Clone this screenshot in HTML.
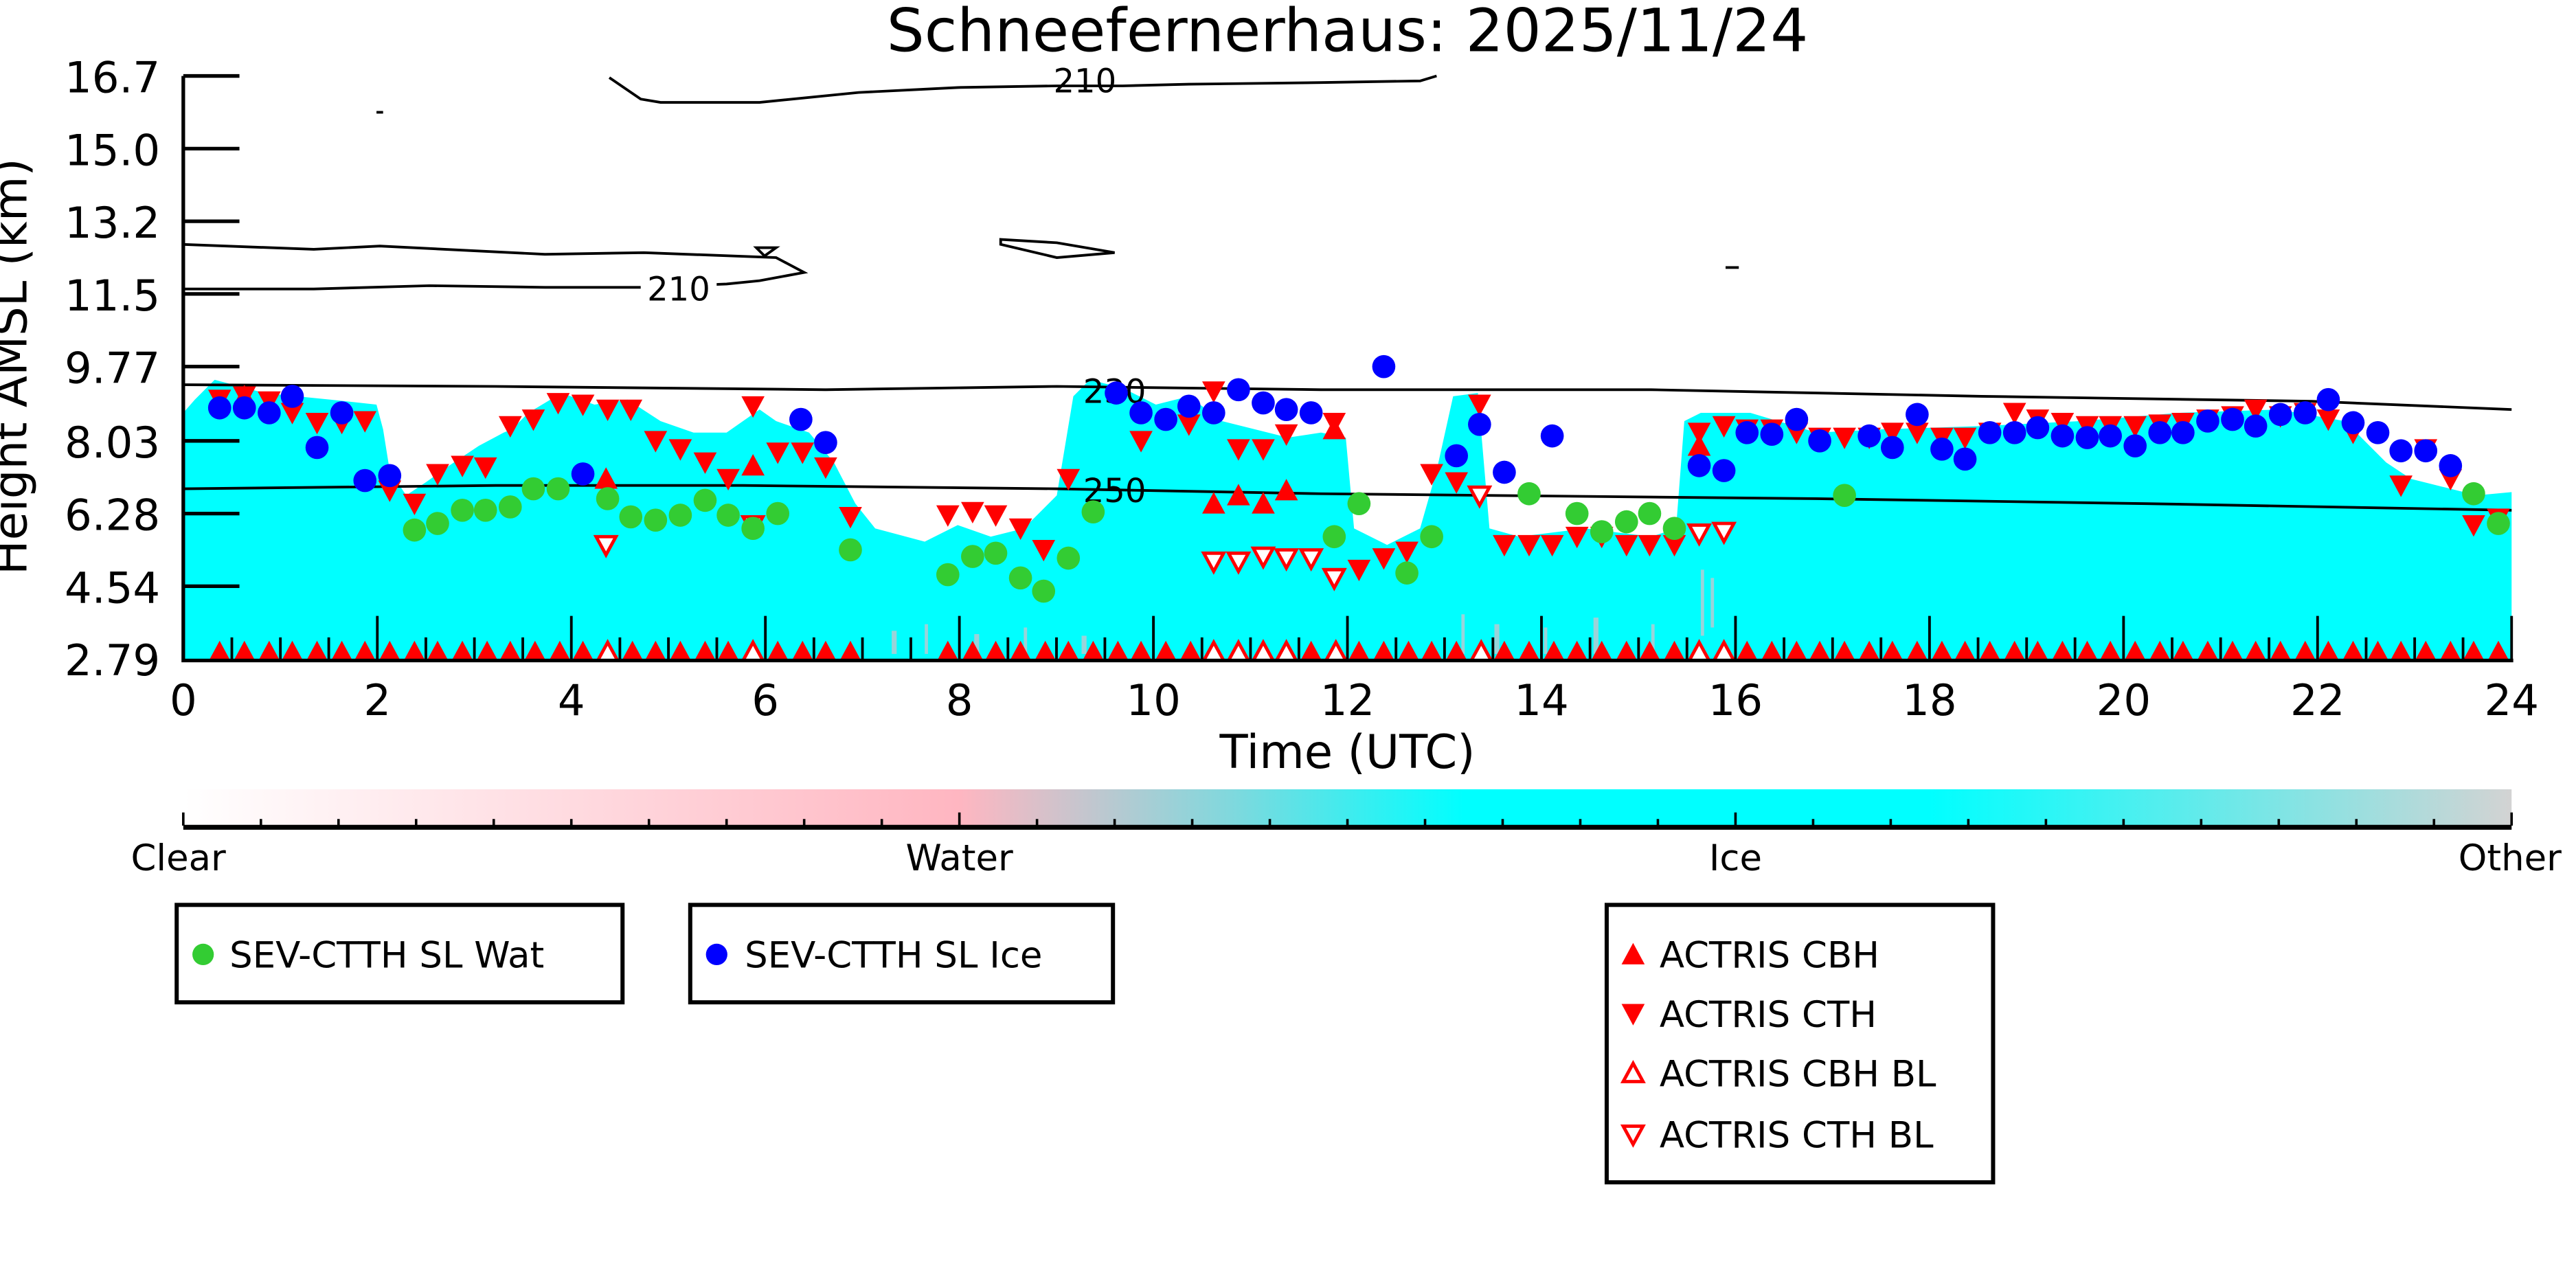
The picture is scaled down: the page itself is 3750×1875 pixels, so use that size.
<!DOCTYPE html>
<html><head><meta charset="utf-8"><style>
html,body{margin:0;padding:0;background:#fff;}
svg{display:block;}
text{font-family:"DejaVu Sans","Liberation Sans",sans-serif;fill:#000;}
</style></head><body>
<svg width="3750" height="1875" viewBox="0 0 1560 780" xmlns="http://www.w3.org/2000/svg">
<defs>
<path id="dn" d="M-7,-6 L7,-6 L0,7 Z" fill="#f00"/>
<path id="up" d="M-7,6 L7,6 L0,-7 Z" fill="#f00"/>
<path id="dnh" d="M-6,-5 L6,-5 L0,6 Z" fill="#fff" stroke="#f00" stroke-width="2"/>
<path id="uph" d="M-6,5 L6,5 L0,-6 Z" fill="#fff" stroke="#f00" stroke-width="2"/>
<circle id="g" r="7" fill="#33cc33"/>
<circle id="b" r="7" fill="#0000ff"/>
<linearGradient id="cb" x1="0" x2="1" y1="0" y2="0">
<stop offset="0" stop-color="#ffffff"/>
<stop offset="0.333" stop-color="#ffb6c1"/>
<stop offset="0.45" stop-color="#80d8dd"/>
<stop offset="0.55" stop-color="#00ffff"/>
<stop offset="0.75" stop-color="#00ffff"/>
<stop offset="1" stop-color="#d3d3d3"/>
</linearGradient>
</defs>
<text x="816" y="31" font-size="36" text-anchor="middle">Schneefernerhaus: 2025/11/24</text>

<!-- cyan cloud mask -->
<polygon fill="#00ffff" points="111,399 111,250 118,242 130,230 160,238 200,242 228,245 232,260 236,285 246,300 258,292 272,282 290,270 305,262 310,260 320,250 340,238 360,245 380,242 400,255 420,262 440,262 460,248 470,255 490,262 505,280 518,305 530,320 560,328 580,318 600,325 620,320 640,300 650,240 660,230 680,235 700,245 720,240 740,255 760,260 780,265 800,262 815,265 820,320 840,330 860,320 870,285 880,240 895,238 902,320 920,325 960,320 1000,325 1015,320 1020,255 1030,250 1060,250 1100,262 1140,260 1200,258 1260,255 1320,250 1380,248 1420,255 1445,280 1460,290 1480,295 1500,300 1521,298 1521,399"/>
<rect x="111" y="375" width="1410" height="24" fill="#00ffff"/>
<g fill="#ffb6c1" opacity="0.6">
<rect x="540" y="382" width="3" height="14"/><rect x="560" y="378" width="2" height="18"/><rect x="590" y="384" width="3" height="12"/><rect x="620" y="380" width="2" height="16"/><rect x="655" y="385" width="3" height="11"/>
<rect x="885" y="372" width="2" height="24"/><rect x="905" y="378" width="3" height="18"/><rect x="935" y="380" width="2" height="16"/><rect x="965" y="374" width="3" height="22"/><rect x="1000" y="378" width="2" height="18"/><rect x="1030" y="345" width="2" height="40"/><rect x="1036" y="350" width="2" height="30"/>
</g>

<!-- contours -->
<g fill="none" stroke="#000" stroke-width="1.6">
<path d="M369,47 L388,60 L400,62 L460,62 L520,56 L580,53 L640,52 L680,52 L720,51 L800,50 L860,49 L870,46"/>
<path d="M111,148 L190,151 L230,149 L330,154 L390,153 L470,156 L487,165 L460,170 L440,172 L390,174 L330,174 L260,173 L190,175 L111,175"/>
<path d="M458,150 L470,150 L463,155 Z"/>
<path d="M606,145 L640,147 L675,153 L640,156 L606,148 Z"/>
<path d="M1045,162 L1053,162"/>
<path d="M228,68 L232,68"/>
<path d="M111,233 L300,234 L500,236 L640,234 L800,236 L1000,236 L1200,240 L1400,243 L1521,248"/>
<path d="M111,296 L300,294 L450,294 L640,296 L800,299 L900,300 L1100,302 L1300,305 L1521,309"/>
</g>
<rect x="388" y="164" width="46" height="20" fill="#fff"/>
<text x="411" y="182" font-size="20" text-anchor="middle">210</text>
<text x="675" y="244" font-size="20" text-anchor="middle">230</text>
<text x="675" y="304" font-size="20" text-anchor="middle">250</text>
<text x="657" y="56" font-size="20" text-anchor="middle">210</text>

<!-- baseline triangles -->
<g>
<use href="#up" x="133" y="395"/><use href="#up" x="148" y="395"/><use href="#up" x="163" y="395"/><use href="#up" x="177" y="395"/><use href="#up" x="192" y="395"/><use href="#up" x="207" y="395"/><use href="#up" x="221" y="395"/><use href="#up" x="236" y="395"/><use href="#up" x="251" y="395"/><use href="#up" x="265" y="395"/><use href="#up" x="280" y="395"/><use href="#up" x="295" y="395"/><use href="#up" x="309" y="395"/><use href="#up" x="324" y="395"/><use href="#up" x="339" y="395"/><use href="#up" x="353" y="395"/><use href="#uph" x="368" y="395"/><use href="#up" x="383" y="395"/><use href="#up" x="397" y="395"/><use href="#up" x="412" y="395"/><use href="#up" x="427" y="395"/><use href="#up" x="441" y="395"/><use href="#uph" x="456" y="395"/><use href="#up" x="471" y="395"/><use href="#up" x="486" y="395"/><use href="#up" x="500" y="395"/><use href="#up" x="515" y="395"/><use href="#up" x="574" y="395"/><use href="#up" x="589" y="395"/><use href="#up" x="603" y="395"/><use href="#up" x="618" y="395"/><use href="#up" x="633" y="395"/><use href="#up" x="647" y="395"/><use href="#up" x="662" y="395"/><use href="#up" x="677" y="395"/><use href="#up" x="691" y="395"/><use href="#up" x="706" y="395"/><use href="#up" x="721" y="395"/><use href="#uph" x="735" y="395"/><use href="#uph" x="750" y="395"/><use href="#uph" x="765" y="395"/><use href="#uph" x="779" y="395"/><use href="#up" x="794" y="395"/><use href="#uph" x="809" y="395"/><use href="#up" x="823" y="395"/><use href="#up" x="838" y="395"/><use href="#up" x="853" y="395"/><use href="#up" x="867" y="395"/><use href="#up" x="882" y="395"/><use href="#uph" x="897" y="395"/><use href="#up" x="911" y="395"/><use href="#up" x="926" y="395"/><use href="#up" x="941" y="395"/><use href="#up" x="955" y="395"/><use href="#up" x="970" y="395"/><use href="#up" x="985" y="395"/><use href="#up" x="999" y="395"/><use href="#up" x="1014" y="395"/><use href="#uph" x="1029" y="395"/><use href="#uph" x="1044" y="395"/><use href="#up" x="1058" y="395"/><use href="#up" x="1073" y="395"/><use href="#up" x="1088" y="395"/><use href="#up" x="1102" y="395"/><use href="#up" x="1117" y="395"/><use href="#up" x="1132" y="395"/><use href="#up" x="1146" y="395"/><use href="#up" x="1161" y="395"/><use href="#up" x="1176" y="395"/><use href="#up" x="1190" y="395"/><use href="#up" x="1205" y="395"/><use href="#up" x="1220" y="395"/><use href="#up" x="1234" y="395"/><use href="#up" x="1249" y="395"/><use href="#up" x="1264" y="395"/><use href="#up" x="1278" y="395"/><use href="#up" x="1293" y="395"/><use href="#up" x="1308" y="395"/><use href="#up" x="1322" y="395"/><use href="#up" x="1337" y="395"/><use href="#up" x="1352" y="395"/><use href="#up" x="1366" y="395"/><use href="#up" x="1381" y="395"/><use href="#up" x="1396" y="395"/><use href="#up" x="1410" y="395"/><use href="#up" x="1425" y="395"/><use href="#up" x="1440" y="395"/><use href="#up" x="1454" y="395"/><use href="#up" x="1469" y="395"/><use href="#up" x="1484" y="395"/><use href="#up" x="1498" y="395"/><use href="#up" x="1513" y="395"/>
</g>

<!-- CTH down triangles -->
<g>
<use href="#dn" x="133" y="242"/><use href="#dn" x="148" y="240"/><use href="#dn" x="163" y="243"/><use href="#dn" x="177" y="250"/><use href="#dn" x="192" y="256"/><use href="#dn" x="207" y="256"/><use href="#dn" x="221" y="255"/><use href="#dn" x="236" y="297"/><use href="#dn" x="251" y="305"/><use href="#dn" x="265" y="287"/><use href="#dn" x="280" y="282"/><use href="#dn" x="294" y="283"/><use href="#dn" x="309" y="258"/><use href="#dn" x="323" y="254"/><use href="#dn" x="338" y="244"/><use href="#dn" x="353" y="245"/><use href="#dn" x="368" y="248"/><use href="#dn" x="382" y="248"/><use href="#dn" x="397" y="267"/><use href="#dn" x="412" y="272"/><use href="#dn" x="427" y="280"/><use href="#dn" x="441" y="290"/><use href="#dn" x="456" y="246"/><use href="#dn" x="471" y="274"/><use href="#dn" x="486" y="274"/><use href="#dn" x="500" y="283"/><use href="#dn" x="515" y="313"/><use href="#dn" x="574" y="312"/><use href="#dn" x="589" y="310"/><use href="#dn" x="603" y="312"/><use href="#dn" x="618" y="320"/><use href="#dn" x="632" y="333"/><use href="#dn" x="647" y="290"/><use href="#dn" x="691" y="267"/><use href="#dn" x="720" y="257"/><use href="#dn" x="735" y="237"/><use href="#dn" x="750" y="272"/><use href="#dn" x="765" y="272"/><use href="#dn" x="779" y="263"/><use href="#dn" x="808" y="256"/><use href="#dn" x="867" y="287"/><use href="#dn" x="882" y="292"/><use href="#dn" x="896" y="245"/><use href="#dn" x="911" y="330"/><use href="#dn" x="926" y="330"/><use href="#dn" x="940" y="330"/><use href="#dn" x="955" y="325"/><use href="#dn" x="970" y="325"/><use href="#dn" x="985" y="330"/><use href="#dn" x="999" y="330"/><use href="#dn" x="1014" y="330"/><use href="#dn" x="1029" y="262"/><use href="#dn" x="1044" y="258"/><use href="#dn" x="1058" y="260"/><use href="#dn" x="1073" y="260"/><use href="#dn" x="1088" y="262"/><use href="#dn" x="1102" y="265"/><use href="#dn" x="1117" y="265"/><use href="#dn" x="1132" y="265"/><use href="#dn" x="1146" y="262"/><use href="#dn" x="1161" y="262"/><use href="#dn" x="1176" y="265"/><use href="#dn" x="1190" y="265"/><use href="#dn" x="1205" y="262"/><use href="#dn" x="1220" y="250"/><use href="#dn" x="1234" y="254"/><use href="#dn" x="1249" y="256"/><use href="#dn" x="1264" y="258"/><use href="#dn" x="1278" y="258"/><use href="#dn" x="1293" y="258"/><use href="#dn" x="1308" y="257"/><use href="#dn" x="1322" y="256"/><use href="#dn" x="1337" y="254"/><use href="#dn" x="1352" y="252"/><use href="#dn" x="1366" y="248"/><use href="#dn" x="1381" y="252"/><use href="#dn" x="1396" y="250"/><use href="#dn" x="1410" y="254"/><use href="#dn" x="1425" y="262"/><use href="#dn" x="1454" y="294"/><use href="#dn" x="1469" y="272"/><use href="#dn" x="1484" y="290"/><use href="#dn" x="1498" y="318"/><use href="#dn" x="1513" y="314"/>
<use href="#dn" x="808" y="350"/><use href="#dn" x="823" y="345"/><use href="#dn" x="838" y="338"/><use href="#dn" x="852" y="334"/>
<use href="#up" x="735" y="305"/><use href="#up" x="750" y="300"/><use href="#up" x="765" y="305"/><use href="#up" x="779" y="297"/><use href="#up" x="808" y="260"/><use href="#up" x="367" y="290"/><use href="#up" x="456" y="282"/><use href="#up" x="1029" y="270"/><use href="#up" x="148" y="240"/>
<use href="#dnh" x="735" y="340"/><use href="#dnh" x="750" y="340"/><use href="#dnh" x="765" y="337"/><use href="#dnh" x="779" y="338"/><use href="#dnh" x="794" y="338"/><use href="#dnh" x="808" y="350"/><use href="#dnh" x="367" y="330"/><use href="#dnh" x="896" y="300"/><use href="#dnh" x="1029" y="323"/><use href="#dnh" x="1044" y="322"/><use href="#dnh" x="456" y="318"/>
</g>

<!-- green -->
<g>
<use href="#g" x="251" y="321"/><use href="#g" x="265" y="317"/><use href="#g" x="280" y="309"/><use href="#g" x="294" y="309"/><use href="#g" x="309" y="307"/><use href="#g" x="323" y="296"/><use href="#g" x="338" y="296"/><use href="#g" x="368" y="302"/><use href="#g" x="382" y="313"/><use href="#g" x="397" y="315"/><use href="#g" x="412" y="312"/><use href="#g" x="427" y="303"/><use href="#g" x="441" y="312"/><use href="#g" x="456" y="320"/><use href="#g" x="471" y="311"/><use href="#g" x="515" y="333"/><use href="#g" x="574" y="348"/><use href="#g" x="589" y="337"/><use href="#g" x="603" y="335"/><use href="#g" x="618" y="350"/><use href="#g" x="632" y="358"/><use href="#g" x="647" y="338"/><use href="#g" x="662" y="310"/><use href="#g" x="808" y="325"/><use href="#g" x="823" y="305"/><use href="#g" x="852" y="347"/><use href="#g" x="867" y="325"/><use href="#g" x="926" y="299"/><use href="#g" x="955" y="311"/><use href="#g" x="970" y="322"/><use href="#g" x="985" y="316"/><use href="#g" x="999" y="311"/><use href="#g" x="1014" y="320"/><use href="#g" x="1117" y="300"/><use href="#g" x="1498" y="299"/><use href="#g" x="1513" y="317"/>
</g>
<!-- blue -->
<g>
<use href="#b" x="133" y="247"/><use href="#b" x="148" y="247"/><use href="#b" x="163" y="250"/><use href="#b" x="177" y="240"/><use href="#b" x="192" y="271"/><use href="#b" x="207" y="250"/><use href="#b" x="221" y="291"/><use href="#b" x="236" y="288"/><use href="#b" x="353" y="287"/><use href="#b" x="485" y="254"/><use href="#b" x="500" y="268"/><use href="#b" x="676" y="238"/><use href="#b" x="691" y="250"/><use href="#b" x="706" y="254"/><use href="#b" x="720" y="246"/><use href="#b" x="735" y="250"/><use href="#b" x="750" y="236"/><use href="#b" x="765" y="244"/><use href="#b" x="779" y="248"/><use href="#b" x="794" y="250"/><use href="#b" x="838" y="222"/><use href="#b" x="882" y="276"/><use href="#b" x="896" y="257"/><use href="#b" x="911" y="286"/><use href="#b" x="940" y="264"/><use href="#b" x="1029" y="282"/><use href="#b" x="1044" y="285"/><use href="#b" x="1058" y="262"/><use href="#b" x="1073" y="263"/><use href="#b" x="1088" y="254"/><use href="#b" x="1102" y="267"/><use href="#b" x="1132" y="264"/><use href="#b" x="1146" y="271"/><use href="#b" x="1161" y="251"/><use href="#b" x="1176" y="272"/><use href="#b" x="1190" y="278"/><use href="#b" x="1205" y="262"/><use href="#b" x="1220" y="262"/><use href="#b" x="1234" y="259"/><use href="#b" x="1249" y="264"/><use href="#b" x="1264" y="265"/><use href="#b" x="1278" y="264"/><use href="#b" x="1293" y="270"/><use href="#b" x="1308" y="262"/><use href="#b" x="1322" y="262"/><use href="#b" x="1337" y="255"/><use href="#b" x="1352" y="254"/><use href="#b" x="1366" y="258"/><use href="#b" x="1381" y="251"/><use href="#b" x="1396" y="250"/><use href="#b" x="1410" y="242"/><use href="#b" x="1425" y="256"/><use href="#b" x="1440" y="262"/><use href="#b" x="1454" y="273"/><use href="#b" x="1469" y="273"/><use href="#b" x="1484" y="282"/>
</g>

<!-- axes -->
<g stroke="#000" stroke-width="2.2" fill="none">
<path d="M111,46 L111,400 L1522,400"/>
<path d="M111,46 H145 M111,90 H145 M111,134 H145 M111,178 H145 M111,222 H145 M111,267 H145 M111,311 H145 M111,355 H145"/>
</g>
<g stroke="#000" stroke-width="1.6">
<path d="M228.5,399 V373 M346,399 V373 M463.5,399 V373 M581,399 V373 M698.5,399 V373 M816,399 V373 M933.5,399 V373 M1051,399 V373 M1168.5,399 V373 M1286,399 V373 M1403.5,399 V373 M1521,399 V373"/>
<path d="M140.4,399 V386 M169.8,399 V386 M199.1,399 V386 M257.9,399 V386 M287.3,399 V386 M316.6,399 V386 M375.4,399 V386 M404.8,399 V386 M434.1,399 V386 M492.9,399 V386 M522.3,399 V386 M551.6,399 V386 M610.4,399 V386 M639.8,399 V386 M669.1,399 V386 M727.9,399 V386 M757.3,399 V386 M786.6,399 V386 M845.4,399 V386 M874.8,399 V386 M904.1,399 V386 M962.9,399 V386 M992.3,399 V386 M1021.6,399 V386 M1080.4,399 V386 M1109.8,399 V386 M1139.1,399 V386 M1197.9,399 V386 M1227.3,399 V386 M1256.6,399 V386 M1315.4,399 V386 M1344.8,399 V386 M1374.1,399 V386 M1432.9,399 V386 M1462.3,399 V386 M1491.6,399 V386"/>
</g>
<g font-size="26" text-anchor="end">
<text x="97" y="56">16.7</text><text x="97" y="100">15.0</text><text x="97" y="144">13.2</text><text x="97" y="188">11.5</text><text x="97" y="232">9.77</text><text x="97" y="277">8.03</text><text x="97" y="321">6.28</text><text x="97" y="365">4.54</text><text x="97" y="409">2.79</text>
</g>
<g font-size="26" text-anchor="middle">
<text x="111" y="433">0</text><text x="228.5" y="433">2</text><text x="346" y="433">4</text><text x="463.5" y="433">6</text><text x="581" y="433">8</text><text x="698.5" y="433">10</text><text x="816" y="433">12</text><text x="933.5" y="433">14</text><text x="1051" y="433">16</text><text x="1168.5" y="433">18</text><text x="1286" y="433">20</text><text x="1403.5" y="433">22</text><text x="1521" y="433">24</text>
</g>
<text x="816" y="465" font-size="28" text-anchor="middle">Time (UTC)</text>
<text transform="translate(16,222) rotate(-90)" font-size="28" text-anchor="middle">Height AMSL (km)</text>

<!-- colorbar -->
<rect x="111" y="478" width="1410" height="22" fill="url(#cb)"/>
<path d="M111,501 H1521" stroke="#000" stroke-width="3"/>
<g stroke="#000" stroke-width="1.5">
<path d="M111,500 V492 M581,500 V492 M1051,500 V492 M1521,500 V492"/>
<path d="M158,500 V496 M205,500 V496 M252,500 V496 M299,500 V496 M346,500 V496 M393,500 V496 M440,500 V496 M487,500 V496 M534,500 V496 M628,500 V496 M675,500 V496 M722,500 V496 M769,500 V496 M816,500 V496 M863,500 V496 M910,500 V496 M957,500 V496 M1004,500 V496 M1098,500 V496 M1145,500 V496 M1192,500 V496 M1239,500 V496 M1286,500 V496 M1333,500 V496 M1380,500 V496 M1427,500 V496 M1474,500 V496"/>
</g>
<g font-size="22" text-anchor="middle">
<text x="108" y="527">Clear</text><text x="581" y="527">Water</text><text x="1051" y="527">Ice</text><text x="1520" y="527">Other</text>
</g>

<!-- legends -->
<g fill="#fff" stroke="#000" stroke-width="2.5">
<rect x="107" y="548" width="270" height="59"/>
<rect x="418" y="548" width="256" height="59"/>
<rect x="973" y="548" width="234" height="168"/>
</g>
<circle cx="123" cy="578" r="6.5" fill="#33cc33"/>
<text x="139" y="586" font-size="22">SEV-CTTH SL Wat</text>
<circle cx="434" cy="578" r="6.5" fill="#0000ff"/>
<text x="451" y="586" font-size="22">SEV-CTTH SL Ice</text>
<use href="#up" x="989" y="578"/>
<text x="1005" y="586" font-size="22">ACTRIS CBH</text>
<use href="#dn" x="989" y="614"/>
<text x="1005" y="622" font-size="22">ACTRIS CTH</text>
<use href="#uph" x="989" y="650"/>
<text x="1005" y="658" font-size="22">ACTRIS CBH BL</text>
<use href="#dnh" x="989" y="687"/>
<text x="1005" y="695" font-size="22">ACTRIS CTH BL</text>
</svg>
</body></html>
